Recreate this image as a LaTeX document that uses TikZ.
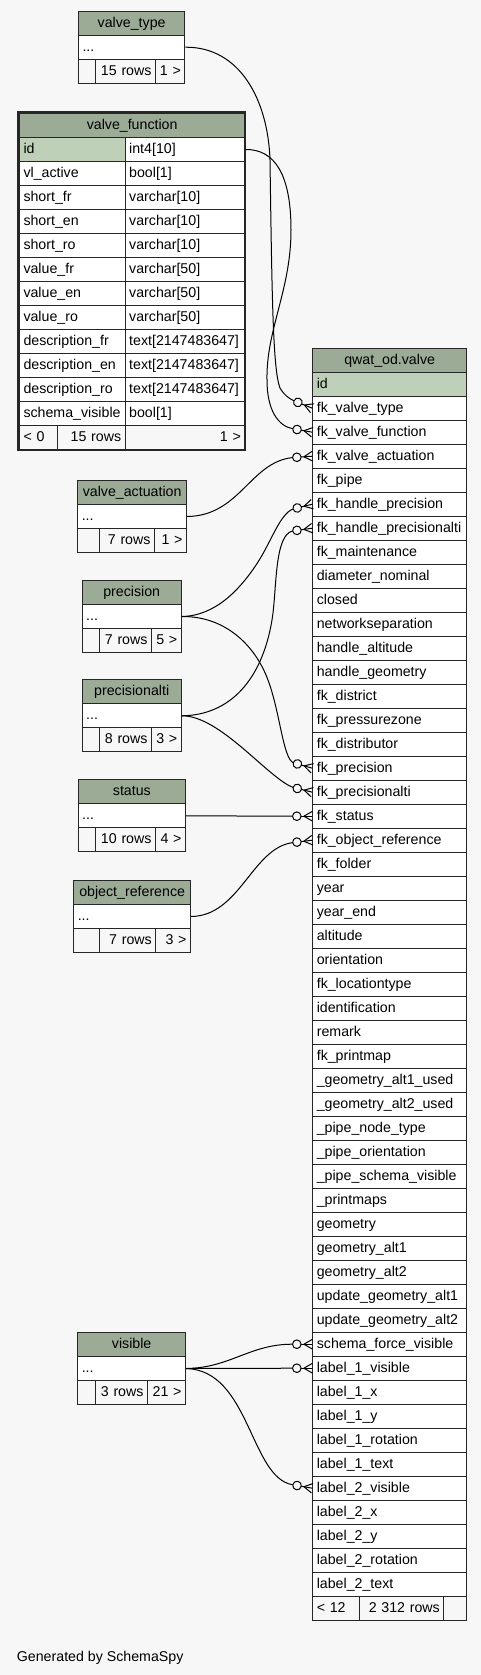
\documentclass[tikz,border=0pt]{standalone}
\usepackage{fontspec}
\setmainfont{Liberation Sans}
\usetikzlibrary{calc}
\definecolor{bg}{HTML}{F7F7F7}
\definecolor{hdr}{HTML}{9BAB96}
\definecolor{idc}{HTML}{BED1B8}
\definecolor{lc}{HTML}{262626}
\hyphenpenalty=10000
\exhyphenpenalty=10000
\tikzset{
  cell/.style={draw=lc, line width=1pt, minimum height=24pt, inner ysep=0pt, inner xsep=4pt,
    anchor=north west, text height=11pt, text depth=3pt, font=\fontsize{14.2}{17}\selectfont},
  conn/.style={draw=black, line width=1pt},
  crowodot/.pic={
    \draw[conn] (-11.3,0) -- (0,0);
    \draw[conn] (-8.5,0) -- (0,4.8) (-8.5,0) -- (0,-4.8);
    \draw[conn, fill=bg] (-15.5,0) circle[radius=4.3pt];
  },
}
\newcommand\mycell[7]{%
  \pgfmathsetmacro\mytw{#4-8}%
  \node[cell, fill=#6, minimum width=#4 pt, text width=\mytw pt, align=#5] (#1) at (#2,#3) {\mbox{#7}};%
}
\newcommand\smalltable[9]{%
  \pgfmathsetmacro\tbw{#4-#2}%
  \pgfmathsetmacro\tbya{#3+24}%
  \pgfmathsetmacro\tbyb{#3+48}%
  \pgfmathsetmacro\tbwa{#5-#2}%
  \pgfmathsetmacro\tbwb{#6-#5}%
  \pgfmathsetmacro\tbwc{#4-#6}%
  \mycell{#1h}{#2}{#3}{\tbw}{center}{hdr}{#7}%
  \mycell{#1r}{#2}{\tbya}{\tbw}{left}{white}{...}%
  \mycell{#1fa}{#2}{\tbyb}{\tbwa}{left}{bg}{}%
  \mycell{#1fb}{#5}{\tbyb}{\tbwb}{right}{bg}{#8}%
  \mycell{#1fc}{#6}{\tbyb}{\tbwc}{right}{bg}{#9}%
}
\begin{document}
\begin{tikzpicture}[x=1pt, y=-1pt]
\fill[bg] (0,0) rectangle (481,1675);
\useasboundingbox (0,0) rectangle (481,1675);

% small tables
\smalltable{vt}{78}{10.7}{184.3}{95.3}{155}{valve\_type}{15 rows}{1 >}
\smalltable{va}{77.3}{480}{186}{99}{154}{valve\_actuation}{7 rows}{1 >}
\smalltable{pr}{81.7}{580}{180.7}{99}{151}{precision}{7 rows}{5 >}
\smalltable{pa}{81.7}{679.3}{180.7}{99}{151}{precisionalti}{8 rows}{3 >}
\smalltable{st}{77.7}{779.3}{185}{95}{155}{status}{10 rows}{4 >}
\smalltable{ob}{73.3}{880}{190}{99}{155.3}{object\_reference}{7 rows}{3 >}
\smalltable{vi}{77.3}{1332}{185}{95}{147}{visible}{3 rows}{21 >}

% valve_function
\mycell{vfh}{19}{113}{225.3}{center}{hdr}{valve\_function}
\mycell{fa1}{19}{137}{105.7}{left}{idc}{id}
\mycell{fb1}{124.7}{137}{119.6}{left}{white}{int4[10]}
\foreach \ca/\cb [count=\i from 2] in {vl\_active/bool[1], short\_fr/varchar[10], short\_en/varchar[10],
  short\_ro/varchar[10], value\_fr/varchar[50], value\_en/varchar[50], value\_ro/varchar[50],
  description\_fr/text[2147483647], description\_en/text[2147483647], description\_ro/text[2147483647],
  schema\_visible/bool[1]}{
  \pgfmathsetmacro\yy{113+24*\i}
  \mycell{fa\i}{19}{\yy}{105.7}{left}{white}{\ca}
  \mycell{fb\i}{124.7}{\yy}{119.6}{left}{white}{\cb}
}
\mycell{vffa}{19}{425}{38}{left}{bg}{< 0}
\mycell{vffb}{57}{425}{67.7}{right}{bg}{15 rows}
\mycell{vffc}{124.7}{425}{119.6}{right}{bg}{1 >}
\draw[lc, line width=2.6pt] (17.9,112.2) rectangle (245.1,450.1);

% qwat_od.valve
\mycell{vh}{312.3}{347.7}{153.7}{center}{hdr}{qwat\_od.valve}
\mycell{v1}{312.3}{371.7}{153.7}{left}{idc}{id}
\foreach \t [count=\i from 2] in {fk\_valve\_type, fk\_valve\_function, fk\_valve\_actuation, fk\_pipe,
  fk\_handle\_precision, fk\_handle\_precisionalti, fk\_maintenance, diameter\_nominal, closed,
  networkseparation, handle\_altitude, handle\_geometry, fk\_district, fk\_pressurezone, fk\_distributor,
  fk\_precision, fk\_precisionalti, fk\_status, fk\_object\_reference, fk\_folder, year, year\_end,
  altitude, orientation, fk\_locationtype, identification, remark, fk\_printmap,
  \_geometry\_alt1\_used, \_geometry\_alt2\_used, \_pipe\_node\_type, \_pipe\_orientation,
  \_pipe\_schema\_visible, \_printmaps, geometry, geometry\_alt1, geometry\_alt2,
  update\_geometry\_alt1, update\_geometry\_alt2, schema\_force\_visible, label\_1\_visible,
  label\_1\_x, label\_1\_y, label\_1\_rotation, label\_1\_text, label\_2\_visible, label\_2\_x,
  label\_2\_y, label\_2\_rotation, label\_2\_text}{
  \pgfmathsetmacro\yy{347.7+24*\i}
  \mycell{v\i}{312.3}{\yy}{153.7}{left}{white}{\t}
}
\mycell{vfa}{312.3}{1595.7}{46.7}{left}{bg}{< 12}
\mycell{vfb}{359}{1595.7}{84.3}{right}{bg}{2 312 rows}
\mycell{vfc}{443.3}{1595.7}{22.7}{left}{bg}{}

% connectors
\draw[conn] (vtr.east) .. controls (240,46.7) and (268,100) .. (270,160)
  .. controls (272,300) and (273,370) .. (280,388)
  .. controls (284,395) and (289,398.5) .. ($(v2.west)+(202:19.8)$);
\draw[conn] (fb1.east) .. controls (275,149) and (291,175) .. (291,230)
  .. controls (291,290) and (266,330) .. (267,380)
  .. controls (267,410) and (278,426) .. ($(v3.west)+(190:19.8)$);
\draw[conn] (var.east) .. controls (240,516) and (250,462) .. ($(v4.west)+(176:19.8)$);
\draw[conn] (prr.east) .. controls (215,616) and (240,590) .. (258,562)
  .. controls (272,540) and (280,514) .. ($(v6.west)+(166:19.8)$);
\draw[conn] (prr.east) .. controls (225,616) and (255,645) .. (268,680)
  .. controls (280,712) and (283,758) .. ($(v17.west)+(196:19.8)$);
\draw[conn] (par.east) .. controls (230,715.3) and (262,680) .. (272,620)
  .. controls (277,590) and (274,535) .. ($(v7.west)+(172:19.8)$);
\draw[conn] (par.east) .. controls (220,715.3) and (268,778) .. ($(v18.west)+(194:19.8)$);
\draw[conn] (str.east) -- ($(v19.west)+(180:19.8)$);
\draw[conn] (obr.east) .. controls (240,916) and (252,848) .. ($(v20.west)+(173:19.8)$);
\draw[conn] (vir.east) .. controls (230,1368) and (250,1344) .. ($(v41.west)+(180:19.8)$);
\draw[conn] (vir.east) -- ($(v42.west)+(180:19.8)$);
\draw[conn] (vir.east) .. controls (250,1370) and (250,1478) .. ($(v47.west)+(190:19.8)$);

\pic[rotate=-22] at (v2.west) {crowodot};
\pic[rotate=-10] at (v3.west) {crowodot};
\pic[rotate=4] at (v4.west) {crowodot};
\pic[rotate=14] at (v6.west) {crowodot};
\pic[rotate=8] at (v7.west) {crowodot};
\pic[rotate=-16] at (v17.west) {crowodot};
\pic[rotate=-14] at (v18.west) {crowodot};
\pic at (v19.west) {crowodot};
\pic[rotate=7] at (v20.west) {crowodot};
\pic at (v41.west) {crowodot};
\pic at (v42.west) {crowodot};
\pic[rotate=-10] at (v47.west) {crowodot};

\node[font=\fontsize{14.2}{17}\selectfont, anchor=base west, inner sep=0pt] (gen) at (16.7,1661) {Generated by SchemaSpy};
\end{tikzpicture}
\end{document}
